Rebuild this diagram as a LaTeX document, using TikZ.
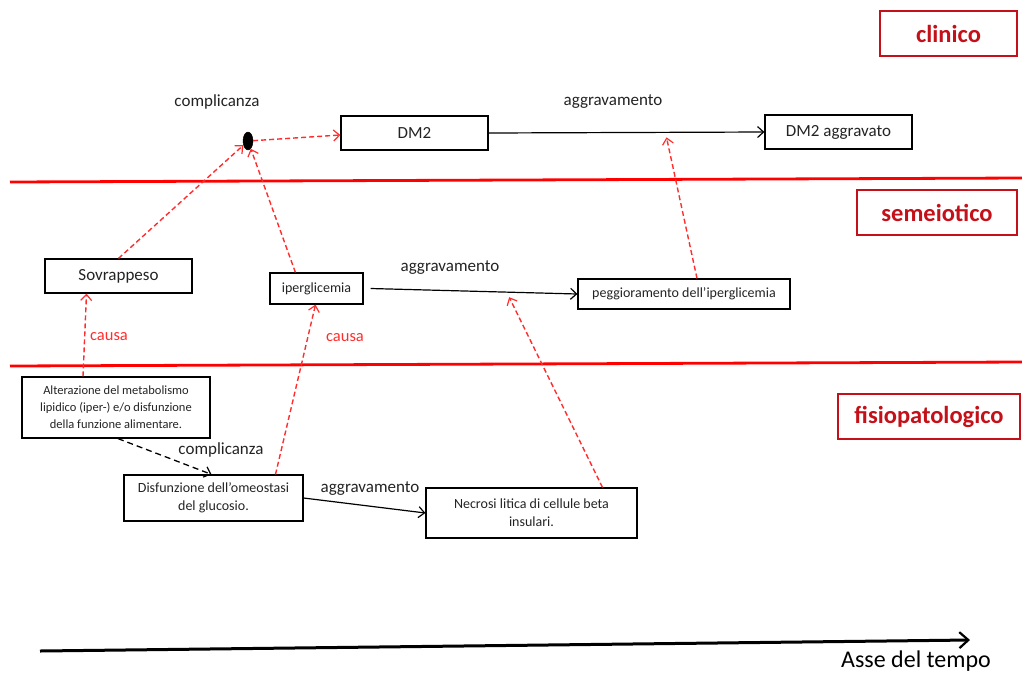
\documentclass[tikz,border=0pt]{standalone}
\usepackage{fontspec}
\setmainfont{Carlito}
\usetikzlibrary{arrows.meta,calc,shapes.geometric}
\definecolor{lvlred}{RGB}{196,16,24}
\definecolor{linkred}{RGB}{255,45,45}
\definecolor{ink}{RGB}{35,35,35}
\begin{document}
\begin{tikzpicture}[x=1pt,y=-1pt,
  box/.style={draw=black,line width=1.2pt,text=ink,align=center,inner sep=0pt},
  big/.style={font=\fontsize{17}{20}\selectfont},
  mid/.style={font=\fontsize{14}{18}\selectfont},
  small/.style={font=\fontsize{12.5}{17}\selectfont},
  lvl/.style={draw=lvlred,line width=1.2pt,text=lvlred,inner sep=0pt,
    minimum height=45pt,font=\fontsize{24.5}{28}\selectfont\bfseries},
  lbl/.style={text=ink,inner sep=0pt,font=\fontsize{17}{20}\selectfont},
  redlbl/.style={text=linkred,inner sep=0pt,font=\fontsize{16.5}{20}\selectfont},
  tip/.style={-{Straight Barb[length=6pt,width=11pt,line width=1.2pt]}},
  cause/.style={tip,draw=linkred,line width=1.4pt,dash pattern=on 5pt off 3pt},
  worsen/.style={tip,draw=black,line width=1.2pt},
  compl/.style={tip,draw=black,line width=1.3pt,dash pattern=on 6pt off 4pt},
  band/.style={draw=red,line width=2.8pt}
]
\useasboundingbox (0,0) rectangle (1022,673);

% level separators
\coordinate (b1l) at (10,182);  \coordinate (b1r) at (1022,178);
\coordinate (b2l) at (10,366);  \coordinate (b2r) at (1022,362);
\draw[band] (b1l) -- (b1r);
\draw[band] (b2l) -- (b2r);

% level labels
\node[lvl,minimum width=137pt] (clin) at (948.5,33.5) {clinico};
\node[lvl,minimum width=160pt] (seme) at (937,212.5) {semeiotico};
\node[lvl,minimum width=182pt] (fisio) at (929,416.5) {fisiopatologico};

% clinical level
\node[box,big,minimum width=147pt,minimum height=34pt] (dm2) at (414.5,133) {DM2};
\node[box,big,minimum width=147pt,minimum height=34pt] (dmagg) at (838.5,132) {DM2 aggravato};
\node[ellipse,fill=black,draw=black,inner sep=0pt,minimum width=10pt,minimum height=18pt] (dot) at (248,141) {};
\node[lbl] (lcompl1) at (217,102) {complicanza};
\node[lbl] (lagg1) at (613,102) {aggravamento};

% semiotic level
\node[box,big,minimum width=147pt,minimum height=34pt] (sovr) at (118.5,276) {Sovrappeso};
\node[box,mid,minimum width=93pt,minimum height=31pt] (iper) at (316.5,288.5) {iperglicemia};
\node[box,mid,minimum width=212pt,minimum height=30pt] (pegg) at (684,294) {peggioramento dell’iperglicemia};
\node[lbl] (lagg2) at (450,268) {aggravamento};

% pathophysiological level
\node[box,small,minimum width=188pt,minimum height=61pt] (alt) at (116,407.5)
  {Alterazione del metabolismo\\lipidico (iper-) e/o disfunzione\\della funzione alimentare.};
\node[box,mid,minimum width=179pt,minimum height=46pt] (disf) at (213.5,498)
  {Disfunzione dell’omeostasi\\del glucosio.};
\node[box,mid,minimum width=211pt,minimum height=50pt] (necr) at (531.5,513)
  {Necrosi litica di cellule beta\\insulari.};
\node[lbl] (lcompl2) at (221,450) {complicanza};
\node[lbl] (lagg3) at (370,489) {aggravamento};
\node[redlbl] (lcausa1) at (109,337) {causa};
\node[redlbl] (lcausa2) at (345,338) {causa};

% progression arrows
\draw[worsen] (dm2.east) -- (dmagg.west);
\draw[worsen] ([xshift=7pt]iper.east) -- (pegg.west);
\draw[worsen] (disf.east) -- (necr.west);
\draw[compl] ([xshift=2pt]alt.south) -- ([xshift=-2pt]disf.north);

% causal links
\coordinate (m1) at ($(dm2.east)!0.645!(dmagg.west)+(0,5)$);
\coordinate (m2) at ($([xshift=7pt]iper.east)!0.67!(pegg.west)+(0,5)$);
\draw[cause] (sovr.north) -- (dot);
\draw[cause] ([xshift=26pt]iper.north west) -- (dot);
\draw[cause] (dot) -- ([yshift=-2pt]dm2.west);
\draw[cause] ([xshift=13pt]pegg.north) -- (m1);
\draw[cause] ([xshift=-33pt]alt.north) -- ([xshift=-32pt]sovr.south);
\draw[cause] ([xshift=62pt]disf.north) -- ([xshift=-1pt]iper.south);
\draw[cause] ([xshift=71pt]necr.north) -- (m2);

% time axis
\coordinate (t0) at (40,651);
\coordinate (t1) at (970,640);
\draw[line width=3pt,-{Straight Barb[length=9pt,width=16pt,line width=2.2pt]}] (t0) -- (t1);
\node[text=black,inner sep=0pt,font=\fontsize{24}{28}\selectfont] (asse) at (916,661) {Asse del tempo};
\end{tikzpicture}
\end{document}
